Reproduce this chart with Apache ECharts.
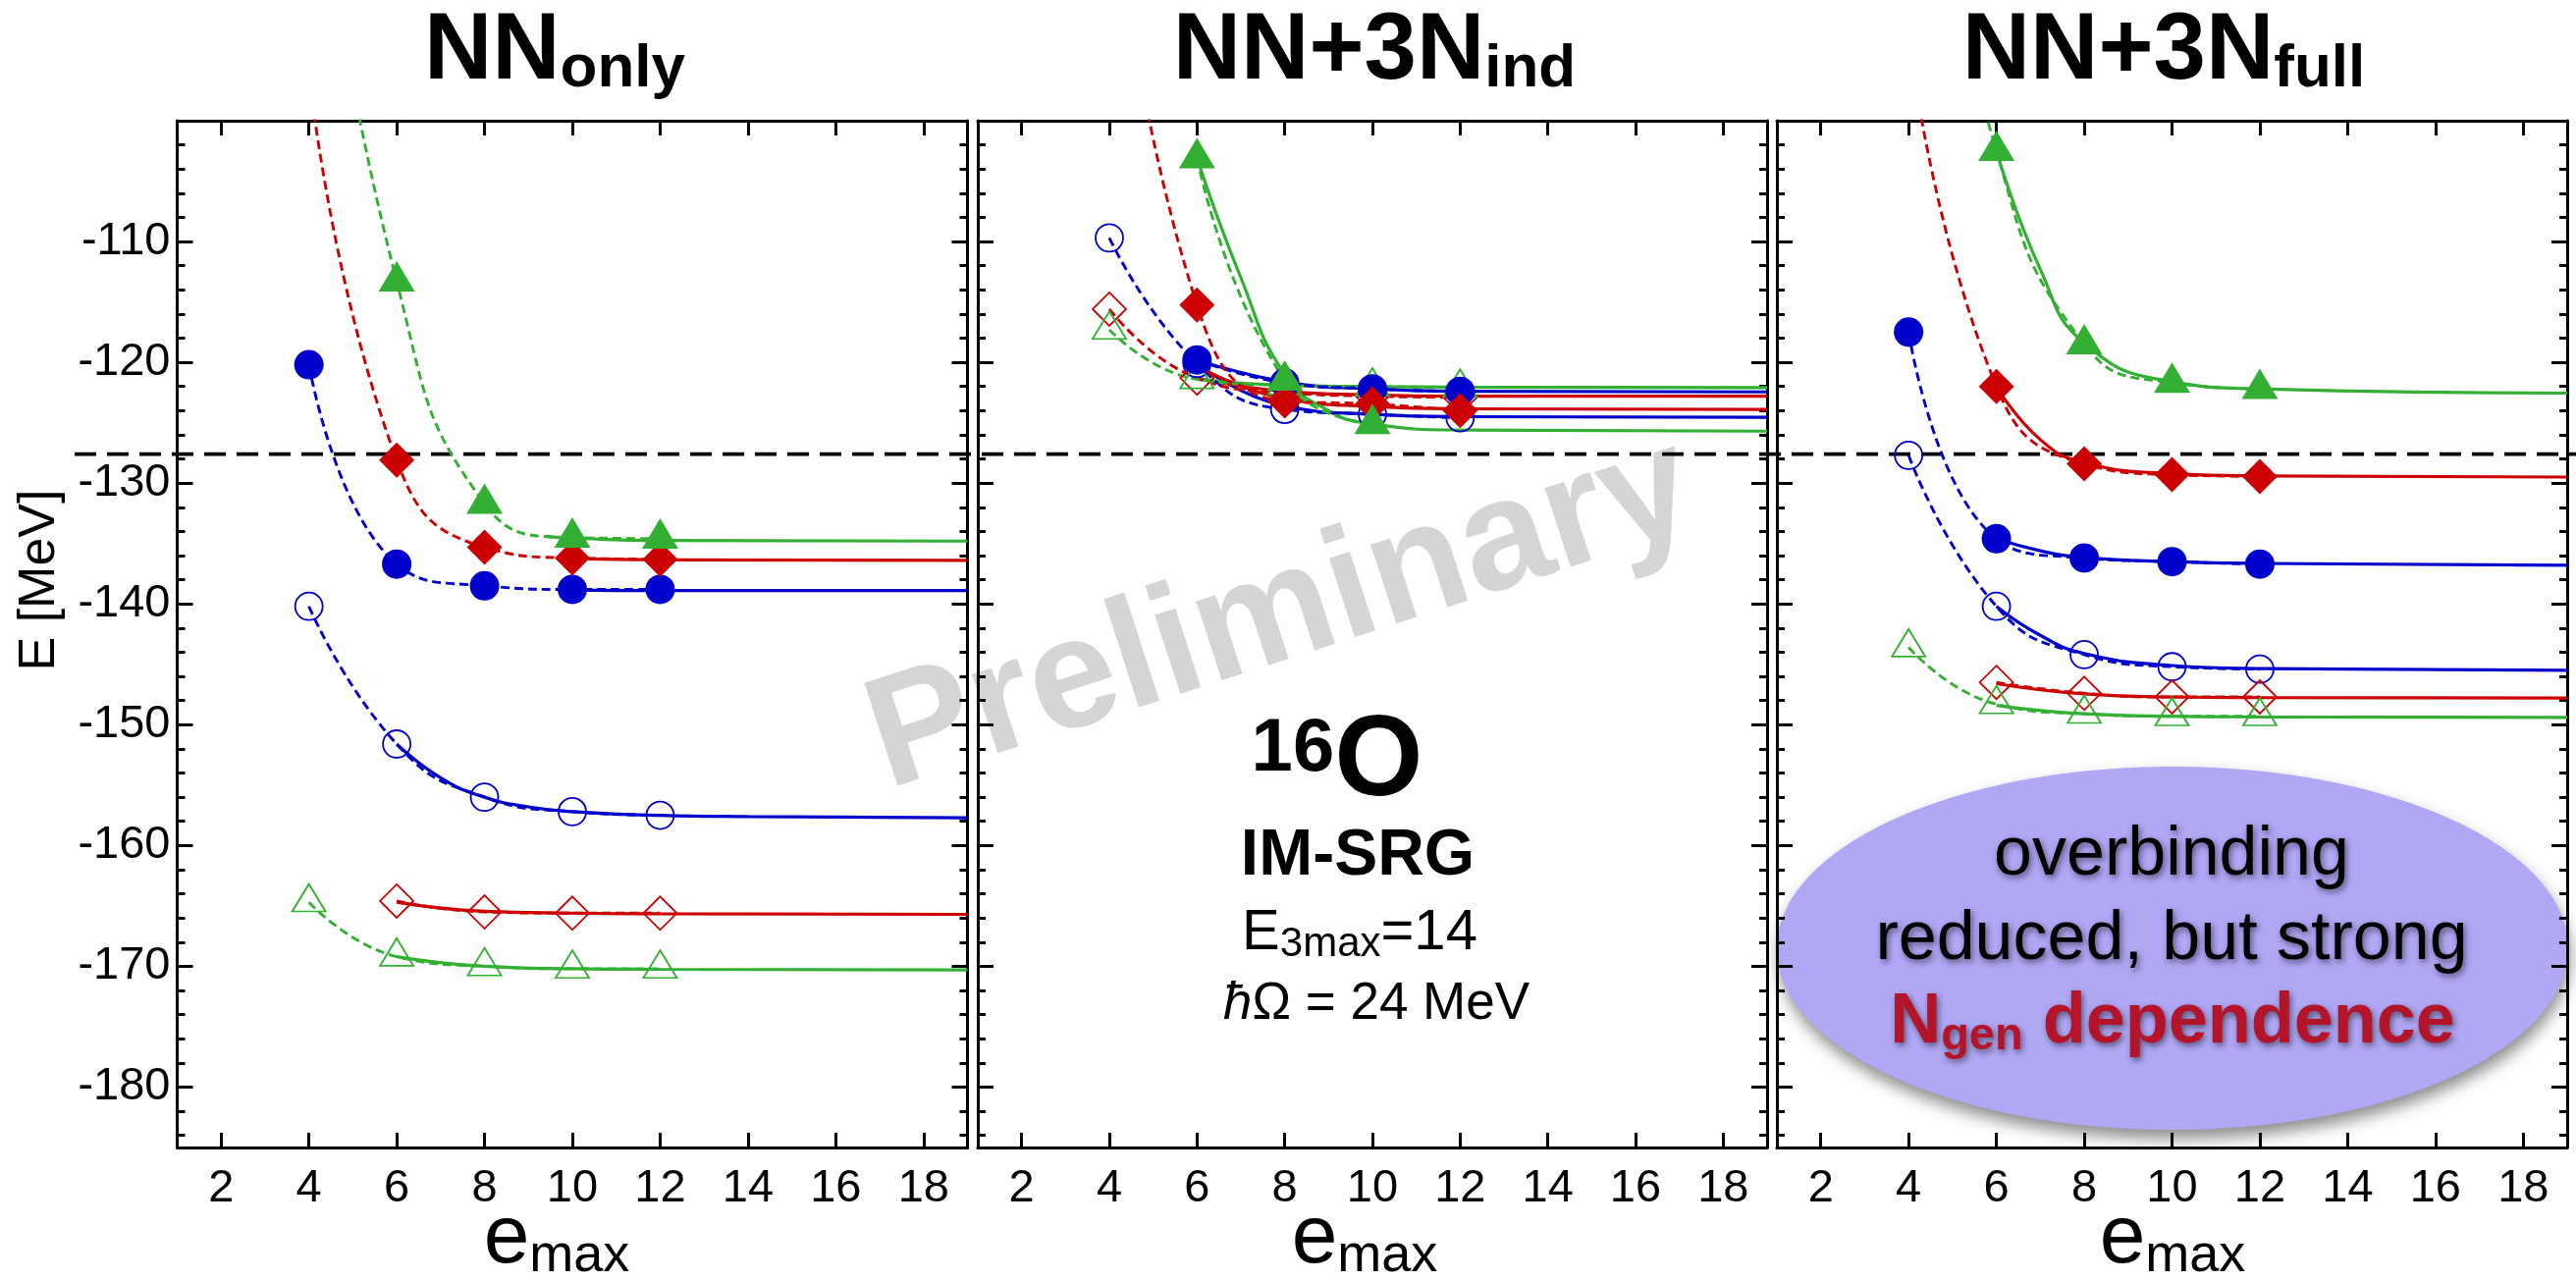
<!DOCTYPE html>
<html>
<head>
<meta charset="utf-8">
<script src="https://cdn.jsdelivr.net/npm/echarts@6/dist/echarts.min.js"></script>
<style>
  html, body { margin: 0; padding: 0; background: #ffffff; }
  #chart { width: 2624px; height: 1304px; }
</style>
</head>
<body>
<div id="chart"></div>
<script>
// ---------------------------------------------------------------------------
// 16O ground-state energy from IM-SRG vs. e_max for three Hamiltonians
// ---------------------------------------------------------------------------

// e_max values of the calculations
const emax = [4, 6, 8, 10, 12];

// axis ticks
const xTicks = [2, 4, 6, 8, 10, 12, 14, 16, 18];
const yMajor = [-180, -170, -160, -150, -140, -130, -120, -110];
const yMinor = [-184, -182, -178, -176, -174, -172, -168, -166, -164, -162,
                -158, -156, -154, -152, -148, -146, -144, -142, -138, -136,
                -134, -132, -128, -126, -124, -122, -118, -116, -114, -112,
                -108, -106, -104, -102];

// experimental binding energy of 16O (MeV)
const E_EXP = -127.6;

// ---- NN only (energies in MeV at emax; null = not computed) ----
const onlyBlueFilled  = [-120.2, -136.7, -138.5, -138.8, -138.8];
const onlyRedFilled   = [-96.0, -128.1, -135.3, -136.2, -136.3];
const onlyGreenFilled = [-75.0, -113.3, -131.7, -134.5, -134.6];
const onlyBlueOpen    = [-140.2, -151.6, -156.0, -157.2, -157.5];
const onlyRedOpen     = [null, -164.6, -165.5, -165.6, -165.6];
const onlyGreenOpen   = [-164.7, -169.2, -170.0, -170.2, -170.2];
// extrapolation curves [emax, E]
const onlyBlueFilledFit  = [[10, -138.85], [12, -138.9], [19, -138.9]];
const onlyRedFilledFit   = [[10, -136.25], [12, -136.35], [19, -136.4]];
const onlyGreenFilledFit = [[9.4, -134.4], [10, -134.55], [12, -134.75], [19, -134.8]];
const onlyBlueOpenFit    = [[6, -151.6], [7, -154.4], [8, -156.0], [9, -156.8], [10, -157.2], [12, -157.5], [14, -157.6], [19, -157.7]];
const onlyRedOpenFit     = [[6, -164.7], [8, -165.45], [10, -165.6], [12, -165.65], [19, -165.7]];
const onlyGreenOpenFit   = [[6, -169.2], [8, -170.0], [10, -170.2], [12, -170.25], [19, -170.3]];

// ---- NN+3N induced ----
const indBlueFilled  = [null, -119.8, -121.7, -122.2, -122.4];
const indRedFilled   = [-78.0, -115.25, -123.2, -123.45, -124.0];
const indGreenFilled = [null, -103.1, -121.5, -125.1, null];
const indBlueOpen    = [-109.7, -120.1, -123.9, -124.3, -124.6];
const indRedOpen     = [-115.6, -121.3, -122.5, -122.8, -122.9];
const indGreenOpen   = [-117.3, -121.4, -121.9, -122.0, -122.1];
const indBlueFilledFit  = [[6, -119.8], [8, -121.6], [10, -122.2], [12, -122.4], [19, -122.45]];
const indRedFilledFit   = [[6, -120.3], [8, -123.0], [10, -123.65], [12, -123.85], [19, -123.9]];
const indGreenFilledFit = [[6, -103.1], [7, -113.0], [8, -121.0], [9, -124.0], [10, -125.1], [12, -125.6], [19, -125.7]];
const indBlueOpenFit    = [[6, -120.1], [8, -123.6], [10, -124.3], [12, -124.5], [19, -124.55]];
const indRedOpenFit     = [[6, -121.3], [8, -122.4], [10, -122.7], [12, -122.8], [19, -122.8]];
const indGreenOpenFit   = [[6, -121.4], [8, -121.9], [10, -122.0], [12, -122.05], [19, -122.1]];

// ---- NN+3N full ----
const fullBlueFilled  = [-117.5, -134.6, -136.2, -136.5, -136.7];
const fullRedFilled   = [-93.0, -122.0, -128.4, -129.3, -129.45];
const fullGreenFilled = [-69.0, -102.5, -118.5, -121.7, -122.2];
const fullBlueOpen    = [-127.7, -140.2, -144.2, -145.2, -145.4];
const fullRedOpen     = [null, -146.5, -147.4, -147.7, -147.7];
const fullGreenOpen   = [-143.6, -148.3, -149.1, -149.3, -149.3];
const fullBlueFilledFit  = [[6, -134.6], [7, -135.6], [8, -136.15], [10, -136.5], [12, -136.65], [19, -136.8]];
const fullRedFilledFit   = [[6, -122.0], [7, -126.4], [8, -128.3], [10, -129.2], [12, -129.4], [19, -129.5]];
const fullGreenFilledFit = [[6, -102.5], [7, -112.3], [8, -118.4], [10, -121.6], [12, -122.2], [19, -122.55]];
const fullBlueOpenFit    = [[6, -140.2], [7, -142.6], [8, -144.1], [10, -145.1], [12, -145.35], [19, -145.5]];
const fullRedOpenFit     = [[6, -146.6], [8, -147.45], [10, -147.7], [12, -147.75], [19, -147.8]];
const fullGreenOpenFit   = [[6, -148.4], [8, -149.1], [10, -149.3], [12, -149.35], [19, -149.4]];

// ---------------------------------------------------------------------------
const FONT = '"Liberation Sans", "DejaVu Sans", Arial, sans-serif';
const BLUE = '#0000cc', RED = '#cc0000', GREEN = '#33b033';

const MARKERS = {
  blueOpen:    { color: BLUE,  symbol: 'circle',   size: 28,       filled: false },
  redOpen:     { color: RED,   symbol: 'diamond',  size: [34, 34], filled: false },
  greenOpen:   { color: GREEN, symbol: 'triangle', size: [34, 28], filled: false },
  blueFilled:  { color: BLUE,  symbol: 'circle',   size: 30,       filled: true },
  redFilled:   { color: RED,   symbol: 'diamond',  size: [36, 36], filled: true },
  greenFilled: { color: GREEN, symbol: 'triangle', size: [37, 31], filled: true }
};
const ORDER = ['blueOpen', 'redOpen', 'greenOpen', 'blueFilled', 'redFilled', 'greenFilled'];

const panels = [
  {
    title: ['NN', 'only'], titleX: 565, labelX: 567, left: 180.5, width: 805,
    values: { blueFilled: onlyBlueFilled, redFilled: onlyRedFilled, greenFilled: onlyGreenFilled,
              blueOpen: onlyBlueOpen, redOpen: onlyRedOpen, greenOpen: onlyGreenOpen },
    fits:   { blueFilled: onlyBlueFilledFit, redFilled: onlyRedFilledFit, greenFilled: onlyGreenFilledFit,
              blueOpen: onlyBlueOpenFit, redOpen: onlyRedOpenFit, greenOpen: onlyGreenOpenFit }
  },
  {
    title: ['NN+3N', 'ind'], titleX: 1400, labelX: 1390, left: 996, width: 804,
    values: { blueFilled: indBlueFilled, redFilled: indRedFilled, greenFilled: indGreenFilled,
              blueOpen: indBlueOpen, redOpen: indRedOpen, greenOpen: indGreenOpen },
    fits:   { blueFilled: indBlueFilledFit, redFilled: indRedFilledFit, greenFilled: indGreenFilledFit,
              blueOpen: indBlueOpenFit, redOpen: indRedOpenFit, greenOpen: indGreenOpenFit }
  },
  {
    title: ['NN+3N', 'full'], titleX: 2204, labelX: 2213, left: 1810, width: 805,
    values: { blueFilled: fullBlueFilled, redFilled: fullRedFilled, greenFilled: fullGreenFilled,
              blueOpen: fullBlueOpen, redOpen: fullRedOpen, greenOpen: fullGreenOpen },
    fits:   { blueFilled: fullBlueFilledFit, redFilled: fullRedFilledFit, greenFilled: fullGreenFilledFit,
              blueOpen: fullBlueOpenFit, redOpen: fullRedOpenFit, greenOpen: fullGreenOpenFit }
  }
];

const GRID_TOP = 123, GRID_HEIGHT = 1046;
const X_MIN = 1, X_MAX = 19, Y_MIN = -185, Y_MAX = -100;

function points(values) {
  const out = [];
  emax.forEach((e, i) => { if (values[i] != null) out.push([e, values[i]]); });
  return out;
}

const grids = [], xAxes = [], yAxes = [], series = [];
const frameLine = { show: true, onZero: false, lineStyle: { color: '#000', width: 3 } };

panels.forEach((p, gi) => {
  grids.push({ left: p.left, top: GRID_TOP, width: p.width, height: GRID_HEIGHT,
               containLabel: false, outerBoundsMode: 'none' });

  ['bottom', 'top'].forEach(pos => {
    xAxes.push({
      type: 'value', gridIndex: gi, position: pos, min: X_MIN, max: X_MAX,
      axisLine: frameLine,
      axisTick: { show: true, inside: true, length: 15, customValues: xTicks,
                  lineStyle: { color: '#000', width: 3 } },
      axisLabel: { show: pos === 'bottom', customValues: xTicks, fontSize: 47,
                   color: '#000', margin: 19, fontFamily: FONT },
      splitLine: { show: false }
    });
  });

  ['left', 'right'].forEach(pos => {
    yAxes.push({
      type: 'value', gridIndex: gi, position: pos, min: Y_MIN, max: Y_MAX,
      axisLine: frameLine,
      axisTick: { show: true, inside: true, length: 16, customValues: yMajor,
                  lineStyle: { color: '#000', width: 3 } },
      axisLabel: { show: gi === 0 && pos === 'left', customValues: yMajor, fontSize: 47,
                   color: '#000', margin: 7, fontFamily: FONT },
      splitLine: { show: false }
    });
    yAxes.push({
      type: 'value', gridIndex: gi, position: pos, min: Y_MIN, max: Y_MAX,
      axisLine: { show: false, onZero: false },
      axisTick: { show: true, inside: true, length: 8, customValues: yMinor,
                  lineStyle: { color: '#000', width: 3 } },
      axisLabel: { show: false },
      splitLine: { show: false }
    });
  });

  // extrapolation curves (solid) under the data
  ORDER.forEach(key => {
    const m = MARKERS[key];
    series.push({
      type: 'line', xAxisIndex: 2 * gi, yAxisIndex: 4 * gi,
      data: p.fits[key], smooth: 0.5, symbol: 'none', showSymbol: false,
      lineStyle: { color: m.color, width: 3.2 }, clip: true, silent: true, z: 2,
      emphasis: { disabled: true }
    });
  });

  // calculated points joined by dashed curves
  ORDER.forEach(key => {
    const m = MARKERS[key];
    const h = Array.isArray(m.size) ? m.size[1] : m.size;
    series.push({
      type: 'line', xAxisIndex: 2 * gi, yAxisIndex: 4 * gi,
      data: points(p.values[key]), smooth: 0.5,
      symbol: m.symbol, symbolSize: m.size, showSymbol: true, showAllSymbol: true,
      symbolOffset: m.symbol === 'triangle' ? [0, -h / 6] : [0, 0],
      lineStyle: { color: m.color, width: 2.9, type: [9, 5] },
      itemStyle: m.filled
        ? { color: m.color, borderWidth: 0 }
        : { color: 'rgba(255,255,255,0)', borderColor: m.color, borderWidth: 1.8 },
      clip: true, silent: true, z: 3,
      emphasis: { disabled: true }
    });
  });
});

const chart = echarts.init(document.getElementById('chart'), null, { renderer: 'canvas' });
chart.setOption({
  animation: false,
  backgroundColor: '#ffffff',
  textStyle: { fontFamily: FONT },
  grid: grids,
  xAxis: xAxes,
  yAxis: yAxes,
  series: series
});

// ---------------------------------------------------------------------------
// annotations
// ---------------------------------------------------------------------------
const measureCtx = document.createElement('canvas').getContext('2d');
function textWidth(str, size, weight, italic) {
  measureCtx.font = (italic ? 'italic ' : '') + (weight || 'normal') + ' ' + size + 'px ' + FONT;
  return measureCtx.measureText(str).width;
}

// text placed by its baseline
function txt(str, x, baseline, size, o) {
  o = o || {};
  const style = {
    text: str, fontSize: size, fontFamily: FONT,
    fontWeight: o.weight || 'normal', fontStyle: o.italic ? 'italic' : 'normal',
    fill: o.fill || '#000',
    align: o.align || 'left', textAlign: o.align || 'left',
    verticalAlign: 'middle', textVerticalAlign: 'middle'
  };
  if (o.shadow) {
    style.textShadowColor = 'rgba(0,0,0,0.5)';
    style.textShadowBlur = 6;
    style.textShadowOffsetX = 2;
    style.textShadowOffsetY = 3;
  }
  return { type: 'text', x: x, y: baseline - 0.3465 * size, z: o.z != null ? o.z : 10,
           silent: true, style: style };
}

// a row of text pieces centred on cx
function row(pieces, cx, o) {
  const widths = pieces.map(pc => textWidth(pc.t, pc.size, pc.weight, pc.italic));
  const total = widths.reduce((a, b) => a + b, 0);
  let x = cx - total / 2;
  return pieces.map((pc, i) => {
    const el = txt(pc.t, x, pc.base, pc.size,
                   Object.assign({}, o, { weight: pc.weight, italic: pc.italic, fill: pc.fill || (o && o.fill) }));
    x += widths[i];
    return el;
  });
}

const yExp = chart.convertToPixel({ xAxisIndex: 0, yAxisIndex: 0 }, [X_MIN, E_EXP])[1];
const els = [];

// watermark
els.push({
  type: 'text', x: 1305, y: 627, rotation: 18 * Math.PI / 180, z: -2, silent: true,
  style: { text: 'Preliminary', fontSize: 160, fontWeight: 'bold', fontFamily: FONT,
           fill: '#d4d5d5', align: 'center', textAlign: 'center',
           verticalAlign: 'middle', textVerticalAlign: 'middle' }
});

// experimental value
els.push({
  type: 'line', z: 1, silent: true,
  shape: { x1: 76, y1: yExp, x2: 2624, y2: yExp },
  style: { stroke: '#000', lineWidth: 3.8, lineDash: [22, 11] }
});

// panel titles and x-axis names
panels.forEach(p => {
  els.push(...row([
    { t: p.title[0], size: 96, weight: 'bold', base: 86.5 },
    { t: p.title[1], size: 62, weight: 'bold', base: 92.5 }
  ], p.titleX));
  els.push(...row([
    { t: 'e', size: 84, base: 1292 },
    { t: 'max', size: 54, base: 1298.5 }
  ], p.labelX));
});

// y-axis name
els.push({
  type: 'text', x: 41, y: 591, rotation: Math.PI / 2, z: 10, silent: true,
  style: { text: 'E [MeV]', fontSize: 52, fontFamily: FONT, fill: '#000',
           align: 'center', textAlign: 'center',
           verticalAlign: 'middle', textVerticalAlign: 'middle' }
});

// calculation details (middle panel)
els.push(...row([
  { t: '16', size: 76, weight: 'bold', base: 790 },
  { t: 'O', size: 116, weight: 'bold', base: 818 }
], 1362));
els.push(txt('IM-SRG', 1383, 896, 66, { weight: 'bold', align: 'center' }));
els.push(...row([
  { t: 'E', size: 58, base: 971 },
  { t: '3max', size: 42, base: 977 },
  { t: '=14', size: 58, base: 971 }
], 1385));
els.push(...row([
  { t: 'ħ', size: 53, italic: true, base: 1042 },
  { t: 'Ω = 24 MeV', size: 53, base: 1042 }
], 1402));

// message bubble (right panel)
els.push({
  type: 'ellipse', z: -1, silent: true,
  shape: { cx: 2213, cy: 966, rx: 403, ry: 185 },
  style: { fill: '#b0a7f5', shadowBlur: 16, shadowColor: 'rgba(0,0,0,0.45)',
           shadowOffsetX: 2, shadowOffsetY: 9 }
});
els.push(txt('overbinding', 2212, 896, 70, { align: 'center', shadow: true }));
els.push(txt('reduced, but strong', 2212, 981.5, 70, { align: 'center', shadow: true }));
els.push(...row([
  { t: 'N', size: 72, weight: 'bold', base: 1067 },
  { t: 'gen', size: 47, weight: 'bold', base: 1072 },
  { t: ' dependence', size: 72, weight: 'bold', base: 1067 }
], 2213, { fill: '#b3142a', shadow: true }));

chart.setOption({ graphic: { elements: els } });
</script>
</body>
</html>
